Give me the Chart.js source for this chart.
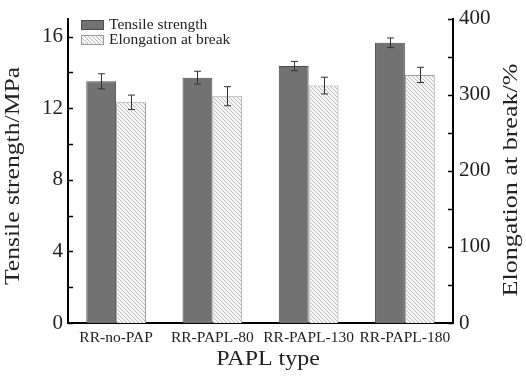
<!DOCTYPE html>
<html>
<head>
<meta charset="utf-8">
<script src="https://cdn.jsdelivr.net/npm/chart.js@4.4.1/dist/chart.umd.min.js"></script>
<style>
  html, body { margin: 0; padding: 0; background: #fff; }
  #wrap { width: 526px; height: 376px; }
</style>
</head>
<body>
<div id="wrap"><canvas id="barChart"></canvas></div>
<script>
// data
var categories = ['RR-no-PAP', 'RR-PAPL-80', 'RR-PAPL-130', 'RR-PAPL-180'];
var tensile = [13.5, 13.7, 14.35, 15.65];
var tensileErr = [0.42, 0.36, 0.26, 0.27];
var elongation = [290, 298, 312, 326];
var elongationErr = [9.5, 12.5, 11, 10];
var leftTicks = [0, 4, 8, 12, 16];
var leftMinor = [2, 6, 10, 14];
var rightTicks = [0, 100, 200, 300, 400];
var rightMinor = [50, 150, 250, 350];
var seriesNames = ['Tensile strength', 'Elongation at break'];
var xTitle = 'PAPL type';
var leftTitle = 'Tensile strength/MPa';
var rightTitle = 'Elongation at break/%';

var serif = "'Liberation Serif', 'DejaVu Serif', serif";

// diagonal hatch for the elongation bars
function hatch() {
  var c = document.createElement('canvas');
  c.width = 4; c.height = 4;
  var g = c.getContext('2d');
  g.fillStyle = '#f6f6f6';
  g.fillRect(0, 0, 4, 4);
  g.strokeStyle = '#bcbcbc';
  g.lineWidth = 1;
  g.beginPath();
  g.moveTo(-1, -1); g.lineTo(5, 5);
  g.moveTo(-1, 3); g.lineTo(1, 5);
  g.moveTo(3, -1); g.lineTo(5, 1);
  g.stroke();
  return g.createPattern(c, 'repeat');
}
var hatchFill = hatch();
var darkFill = '#727272';

// title text, a little wider than the font gives, as in the source
function drawTitle(ctx, text, x, y, angle, stretch) {
  ctx.save();
  ctx.translate(x, y);
  ctx.rotate(angle);
  ctx.scale(stretch, 1);
  ctx.fillText(text, 0, 0);
  ctx.restore();
}

var extras = {
  id: 'extras',
  afterDatasetsDraw: function(chart) {
    var ctx = chart.ctx;
    var errs = [tensileErr, elongationErr];
    ctx.save();
    ctx.strokeStyle = '#333';
    ctx.lineWidth = 1;
    for (var d = 0; d < 2; d++) {
      var meta = chart.getDatasetMeta(d);
      var scale = chart.scales[meta.yAxisID];
      var vals = chart.data.datasets[d].data;
      meta.data.forEach(function(bar, i) {
        var x = Math.round(bar.x) + 0.5;
        var t = scale.getPixelForValue(vals[i] + errs[d][i]);
        var b = scale.getPixelForValue(vals[i] - errs[d][i]);
        ctx.beginPath();
        ctx.moveTo(x, t); ctx.lineTo(x, b);
        ctx.moveTo(x - 3.5, t); ctx.lineTo(x + 3.5, t);
        ctx.moveTo(x - 3.5, b); ctx.lineTo(x + 3.5, b);
        ctx.stroke();
      });
    }
    ctx.restore();
  },
  afterDraw: function(chart) {
    var ctx = chart.ctx;
    var area = chart.chartArea;
    var yl = chart.scales.y, yr = chart.scales.y1;
    ctx.save();
    // inward tick marks
    ctx.strokeStyle = '#000';
    ctx.lineWidth = 1.5;
    leftTicks.concat(leftMinor).forEach(function(v) {
      var p = Math.round(yl.getPixelForValue(v)) + 0.5;
      ctx.beginPath(); ctx.moveTo(area.left, p); ctx.lineTo(area.left + 5, p); ctx.stroke();
    });
    rightTicks.concat(rightMinor).forEach(function(v) {
      var p = Math.round(yr.getPixelForValue(v)) + 0.5;
      ctx.beginPath(); ctx.moveTo(area.right, p); ctx.lineTo(area.right - 5, p); ctx.stroke();
    });
    // legend in the top-left corner
    var fills = [darkFill, hatchFill];
    var borders = ['#4c4c4c', '#9a9a9a'];
    ctx.font = '15.5px ' + serif;
    ctx.textBaseline = 'middle';
    ctx.textAlign = 'left';
    for (var i = 0; i < 2; i++) {
      var y = 20 + i * 15;
      ctx.fillStyle = fills[i];
      ctx.fillRect(81, y, 23, 10);
      ctx.strokeStyle = borders[i];
      ctx.lineWidth = 1;
      ctx.strokeRect(81.5, y + 0.5, 22, 9);
      ctx.fillStyle = '#222';
      ctx.fillText(seriesNames[i], 109, y + 5);
    }
    // axis titles, both vertical ones read bottom to top
    ctx.font = '21px ' + serif;
    ctx.fillStyle = '#222';
    ctx.textAlign = 'center';
    ctx.textBaseline = 'alphabetic';
    drawTitle(ctx, xTitle, 268, 365, 0, 1.14);
    ctx.textBaseline = 'middle';
    drawTitle(ctx, leftTitle, 13, 176, -Math.PI / 2, 1.22);
    drawTitle(ctx, rightTitle, 511, 180, -Math.PI / 2, 1.24);
    ctx.restore();
  }
};

var ctx = document.getElementById('barChart').getContext('2d');
var chart = new Chart(ctx, {
  type: 'bar',
  data: {
    labels: categories,
    datasets: [{
      label: seriesNames[0],
      data: tensile,
      yAxisID: 'y',
      backgroundColor: darkFill,
      borderColor: '#4c4c4c',
      borderWidth: 1
    }, {
      label: seriesNames[1],
      data: elongation,
      yAxisID: 'y1',
      backgroundColor: hatchFill,
      borderColor: '#9a9a9a',
      borderWidth: 1
    }]
  },
  options: {
    responsive: true,
    maintainAspectRatio: false,
    animation: false,
    layout: { padding: { top: 14, left: 0, right: 0, bottom: 0 } },
    categoryPercentage: 0.62,
    barPercentage: 1,
    plugins: {
      legend: { display: false },
      tooltip: { enabled: false }
    },
    scales: {
      x: {
        grid: { display: false, drawTicks: false },
        border: { display: true, color: '#000', width: 2 },
        ticks: { font: { family: serif, size: 15.5 }, color: '#222', padding: 6, maxRotation: 0, autoSkip: false },
        afterFit: function(s) { s.height = 53; }
      },
      y: {
        position: 'left',
        min: 0, max: 17,
        afterBuildTicks: function(s) { s.ticks = leftTicks.map(function(v) { return { value: v }; }); },
        grid: { display: false, drawTicks: false },
        border: { display: true, color: '#000', width: 2 },
        ticks: { font: { family: serif, size: 21 }, color: '#222', padding: 5 },
        afterFit: function(s) { s.width = 68; }
      },
      y1: {
        position: 'right',
        min: 0, max: 400,
        afterBuildTicks: function(s) { s.ticks = rightTicks.map(function(v) { return { value: v }; }); },
        grid: { display: false, drawTicks: false },
        border: { display: true, color: '#000', width: 2 },
        ticks: { font: { family: serif, size: 21 }, color: '#222', padding: 6 },
        afterFit: function(s) { s.width = 73; }
      }
    }
  },
  plugins: [extras]
});
</script>
</body>
</html>
